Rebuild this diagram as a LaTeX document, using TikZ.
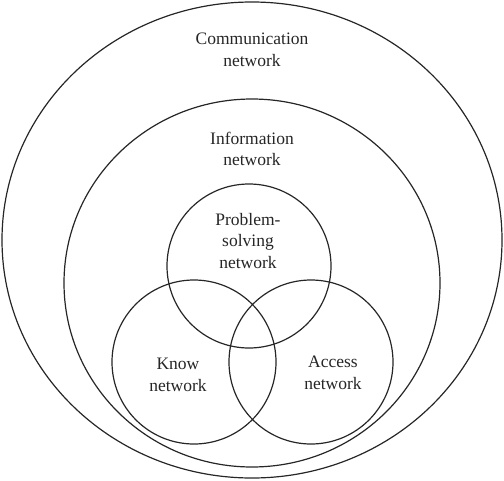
\documentclass[tikz,border=0pt]{standalone}
\usepackage{fontspec}
\setmainfont{Liberation Serif}
\begin{document}
\begin{tikzpicture}[x=1pt,y=-1pt,
  ring/.style={draw=black!85,line width=1.2pt},
  setcircle/.style={ring,circle,minimum size=164pt,inner sep=0pt},
  lbl/.style={align=center,inner sep=0pt,font=\fontsize{17.5}{21.5}\selectfont,text=black!85}]
\useasboundingbox (0,0) rectangle (504,480);
\draw[ring] (252,240) ellipse [x radius=250pt, y radius=238pt];
\draw[ring] (252,283) ellipse [x radius=188pt, y radius=184pt];
\node[setcircle] (ps) at (249,266) {};
\node[setcircle] (kn) at (194,362) {};
\node[setcircle] (ac) at (311,362) {};
\node[lbl] (comm) at (252,50) {Communication\\network};
\node[lbl] (info) at (252,149) {Information\\network};
\node[lbl] (pst) at (248,241) {Problem-\\solving\\network};
\node[lbl] (knt) at (178,375) {Know\\network};
\node[lbl] (act) at (333,373) {Access\\network};
\end{tikzpicture}
\end{document}
